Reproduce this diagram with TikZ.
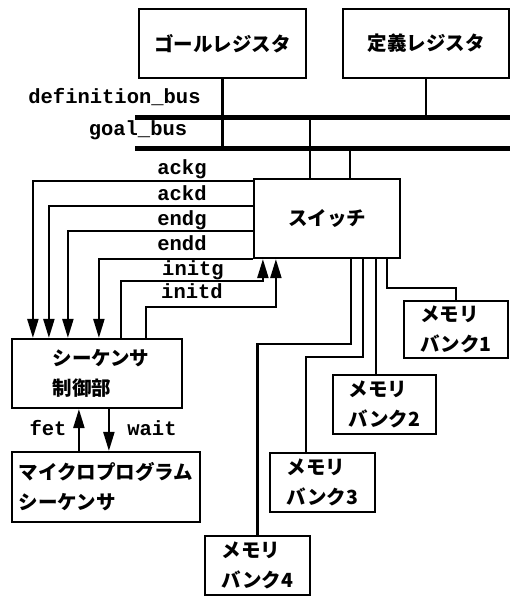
\documentclass[tikz,border=0pt]{standalone}
\usepackage{fontspec}
\setmonofont{Liberation Mono}
\newfontfamily\jpfont{Noto Sans CJK JP}
\usetikzlibrary{arrows.meta, calc}

\begin{document}
\begin{tikzpicture}[x=1pt, y=-1pt,
    box/.style={draw, line width=2.2pt, inner sep=0pt, align=left, font=\jpfont\bfseries\fontsize{19.5}{30}\selectfont},
    wire/.style={line width=2.2pt},
    bus/.style={line width=5pt},
    sig/.style={line width=2.2pt, -{Triangle[length=19pt, width=11pt]}},
    lbl/.style={font=\ttfamily\bfseries\fontsize{20.5}{22}\selectfont, inner sep=0pt, anchor=base}]
    \useasboundingbox (0,0) rectangle (510,598);

    % Registers
    \node[box, minimum width=167, minimum height=69] (goalreg) at (222.5,43.5) {ゴールレジスタ};
    \node[box, minimum width=166, minimum height=69] (defreg) at (426,43.5) {定義レジスタ};

    % Buses
    \coordinate (defbusL) at (135,117);
    \coordinate (defbusR) at (512,117);
    \coordinate (goalbusL) at (135,148);
    \coordinate (goalbusR) at (512,148);
    \draw[bus] (defbusL) -- (defbusR);
    \draw[bus] (goalbusL) -- (goalbusR);
    \node[lbl] (deflbl) at (114.5,103) {definition\_bus};
    \node[lbl] (goallbl) at (138,135) {goal\_bus};
    \draw[wire] (goalreg.south) -- (goalreg.south |- goalbusL);
    \draw[wire] (defreg.south) -- (defreg.south |- defbusL);

    % Switch
    \node[box, minimum width=146, minimum height=79] (switch) at (327,218.5) {スイッチ};
    \draw[wire] ([xshift=57]switch.north west) -- ([xshift=57]switch.north west |- defbusL);
    \draw[wire] ([xshift=97]switch.north west) -- ([xshift=97]switch.north west |- goalbusL);

    % Sequencer control and microprogram sequencer
    \node[box, minimum width=170, minimum height=69] (seqctl) at (97,373.5) {\hspace*{8pt}シーケンサ\\\hspace*{8pt}制御部};
    \node[box, minimum width=188, minimum height=70] (mpseq) at (106,487) {マイクロプログラム\\シーケンサ};

    % Control signals
    \draw[sig] ([yshift=-3]switch.north west) -| ([xshift=22]seqctl.north west);
    \draw[sig] ([yshift=-28]switch.north west) -| ([xshift=38]seqctl.north west);
    \draw[sig] ([yshift=-53]switch.north west) -| ([xshift=57]seqctl.north west);
    \draw[sig] (switch.south west) -| ([xshift=88]seqctl.north west);
    \draw[sig] ([xshift=110]seqctl.north west) |- ([xshift=10,yshift=-22]switch.south west) -- ([xshift=10]switch.south west);
    \draw[sig] ([xshift=135]seqctl.north west) |- ([xshift=23,yshift=-48]switch.south west) -- ([xshift=23]switch.south west);
    \node[lbl] (ackg) at (182,174) {ackg};
    \node[lbl] (ackd) at (182,200.5) {ackd};
    \node[lbl] (endg) at (182,225.5) {endg};
    \node[lbl] (endd) at (182,250.5) {endd};
    \node[lbl] (initg) at (193,275) {initg};
    \node[lbl] (initd) at (192,298) {initd};

    \draw[sig] ([xshift=68]mpseq.north west) -- ([xshift=68]mpseq.north west |- seqctl.south);
    \draw[sig] ([xshift=98]seqctl.south west) -- ([xshift=98]seqctl.south west |- mpseq.north);
    \node[lbl] (fet) at (48,435) {fet};
    \node[lbl] (wait) at (152,435) {wait};

    % Memory banks
    \node[box, minimum width=104, minimum height=57] (bank1) at (456,329.5) {メモリ\\バンク1};
    \node[box, minimum width=103, minimum height=59] (bank2) at (384.5,404.5) {メモリ\\バンク2};
    \node[box, minimum width=105, minimum height=59] (bank3) at (322.5,482.5) {メモリ\\バンク3};
    \node[box, minimum width=105, minimum height=59] (bank4) at (257.5,565.5) {メモリ\\バンク4};

    \draw[wire] ([xshift=134]switch.south west) -- ([xshift=134,yshift=-29]switch.south west) -| (bank1.north);
    \draw[wire] ([xshift=123]switch.south west) -- ([xshift=123]switch.south west |- bank2.north);
    \draw[wire] ([xshift=110]switch.south west) -- ([xshift=110,yshift=-98]switch.south west) -| ([xshift=37]bank3.north west);
    \draw[wire] ([xshift=98]switch.south west) -- ([xshift=98,yshift=-85]switch.south west) -| (bank4.north);
\end{tikzpicture}
\end{document}
